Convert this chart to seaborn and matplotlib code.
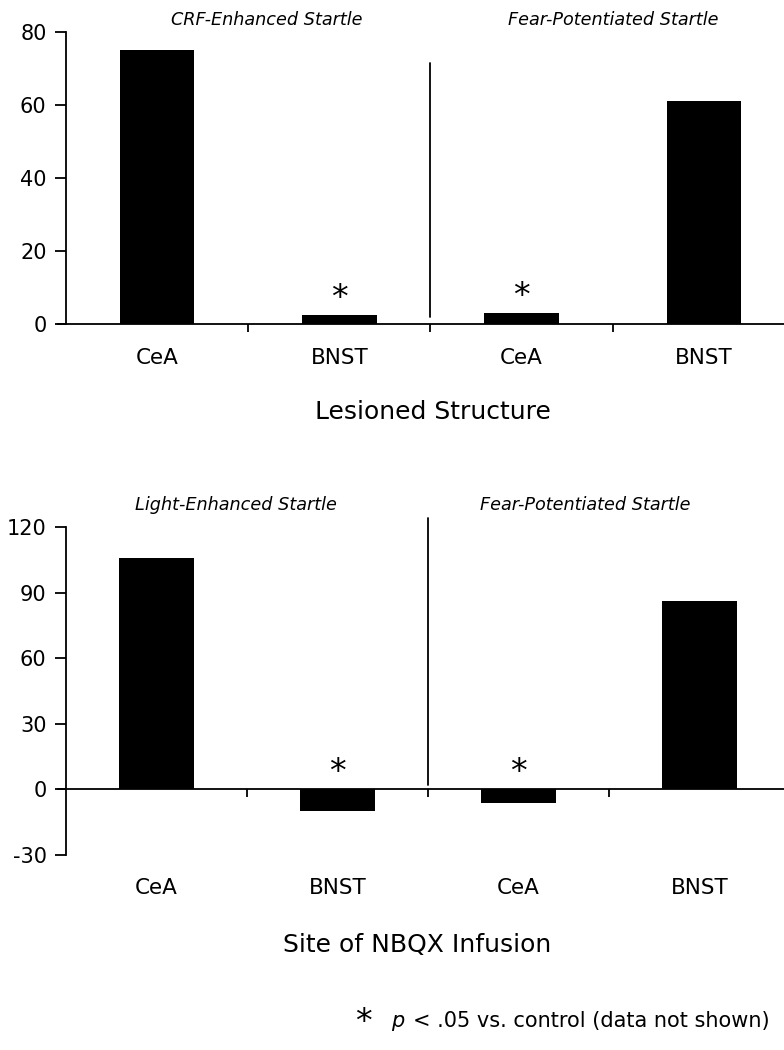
import matplotlib
matplotlib.use("Agg")
import matplotlib.pyplot as plt
import matplotlib.transforms as mtransforms
import pandas as pd
import seaborn as sns

# top panel: lesion studies
lesion_sites = ["CeA", "BNST", "CeA", "BNST"]
lesion_values = [75, 2.5, 3, 61]
lesion_sig = [False, True, True, False]
lesion_groups = ["CRF-Enhanced Startle", "Fear-Potentiated Startle"]

# bottom panel: NBQX infusion
infusion_sites = ["CeA", "BNST", "CeA", "BNST"]
infusion_values = [106, -10, -6, 86]
infusion_sig = [False, True, True, False]
infusion_groups = ["Light-Enhanced Startle", "Fear-Potentiated Startle"]

sns.set_style("white")
plt.rcParams["font.family"] = ["DejaVu Sans"]
plt.rcParams["text.color"] = "black"
plt.rcParams["axes.edgecolor"] = "black"
plt.rcParams["xtick.color"] = "black"
plt.rcParams["ytick.color"] = "black"
plt.rcParams["axes.labelcolor"] = "black"

W, H = 784, 1050
fig = plt.figure(figsize=(W / 100, H / 100), dpi=100)


def px_axes(left, right, top, bottom):
    return fig.add_axes([left / W, 1 - bottom / H,
                         (right - left) / W, (bottom - top) / H])


def draw_panel(ax, sites, values, sig, groups, ylim, yticks, xlabel,
               group_x, group_y, divider, label_y, xlabel_x, xlabel_y):
    df = pd.DataFrame({"slot": range(len(sites)), "value": values})
    sns.barplot(data=df, x="slot", y="value", color="black", saturation=1,
                width=0.41, edgecolor="none", ax=ax)
    ax.set_xlim(-0.5, 3.5)
    ax.set_ylim(*ylim)
    ax.set_yticks(yticks)
    ax.set_yticklabels([str(t) for t in yticks], fontsize=15)
    ax.set_xticks([0.5, 1.5, 2.5])
    ax.set_xticklabels([])
    ax.set_xlabel("")
    ax.set_ylabel("")
    ax.tick_params(axis="y", direction="out", length=8, width=1.3,
                   left=True, pad=6)
    ax.tick_params(axis="x", direction="out", length=6, width=1.3,
                   bottom=True)
    for side in ["top", "right"]:
        ax.spines[side].set_visible(False)
    ax.spines["left"].set_linewidth(1.3)
    ax.spines["bottom"].set_linewidth(1.3)
    ax.spines["bottom"].set_position(("data", 0))
    ax.spines["bottom"].set_bounds(-0.545, 3.5)

    tr = mtransforms.blended_transform_factory(ax.transData, fig.transFigure)
    for i, site in enumerate(sites):
        ax.text(i, 1 - label_y / H, site, transform=tr, ha="center",
                va="center", fontsize=15.5)
        if sig[i]:
            ax.annotate("*", (i, max(values[i], 0)), xytext=(0, 7),
                        textcoords="offset pixels", ha="center",
                        va="baseline", fontsize=24)
    for gx, g in zip(group_x, groups):
        ax.text(gx, 1 - group_y / H, g, transform=tr, ha="center",
                va="center", fontsize=12.7, style="italic")
    ax.plot([1.5, 1.5], divider, color="black", lw=1.3, clip_on=False)
    fig.text(xlabel_x / W, 1 - xlabel_y / H, xlabel,
             ha="center", va="center", fontsize=18)


ax1 = px_axes(66, 795, 32, 324)
draw_panel(ax1, lesion_sites, lesion_values, lesion_sig, lesion_groups,
           (0, 80), [0, 20, 40, 60, 80], "Lesioned Structure",
           [0.6, 2.5], 20, [2, 71.5], 358, 433, 412)

ax2 = px_axes(66, 790, 527, 855)
draw_panel(ax2, infusion_sites, infusion_values, infusion_sig,
           infusion_groups, (-30, 120), [-30, 0, 30, 60, 90, 120],
           "Site of NBQX Infusion", [0.44, 2.37], 505, [2, 124], 888,
           417, 945)

# footnote
fig.text(363 / W, 1 - 1022 / H, "*", ha="center", va="center", fontsize=24)
fig.text(398 / W, 1 - 1021 / H, "p", ha="center", va="center",
         fontsize=15, style="italic")
fig.text(770 / W, 1 - 1021 / H, "< .05 vs. control (data not shown)",
         ha="right", va="center", fontsize=15)

fig.savefig("out.png", dpi=100)
